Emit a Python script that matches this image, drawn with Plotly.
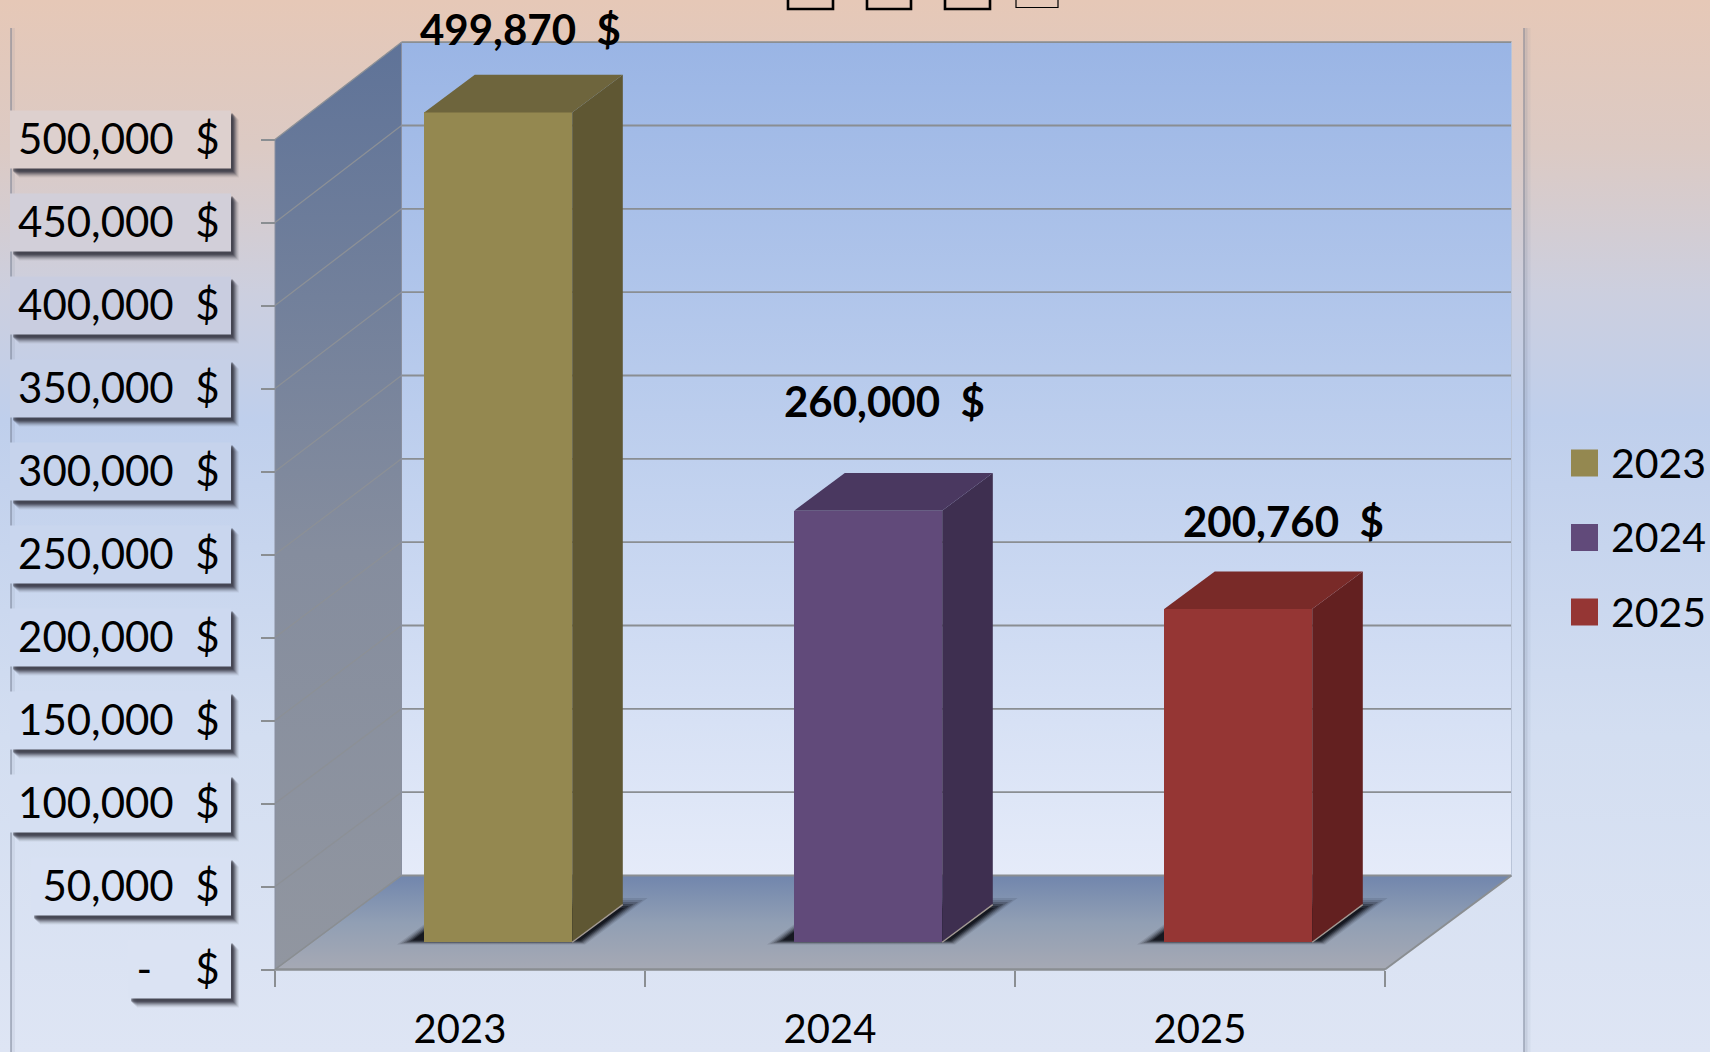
import plotly.graph_objects as go

W, H = 1710, 1052
years = ["2023", "2024", "2025"]
values = [499870, 260000, 200760]
value_labels = ["499,870\u00a0\u00a0$", "260,000\u00a0\u00a0$", "200,760\u00a0\u00a0$"]
tick_values = [0, 50000, 100000, 150000, 200000, 250000, 300000, 350000, 400000, 450000, 500000]
tick_labels = ["-\u00a0\u00a0\u00a0\u00a0$", "50,000\u00a0\u00a0$", "100,000\u00a0\u00a0$", "150,000\u00a0\u00a0$",
               "200,000\u00a0\u00a0$", "250,000\u00a0\u00a0$", "300,000\u00a0\u00a0$", "350,000\u00a0\u00a0$",
               "400,000\u00a0\u00a0$", "450,000\u00a0\u00a0$", "500,000\u00a0\u00a0$"]
plate_colors = ["#DBE3F3", "#D8E1F3", "#D5DFF2", "#D1DCF1", "#CDD9F0", "#C9D6EE", "#C6D3EC", "#C6D0E7",
                "#C9CDE0", "#D2CFD9", "#DDD0CE"]
front_colors = ["#948850", "#614A7A", "#953634"]
side_colors = ["#5F5733", "#3E2F50", "#632020"]
top_colors = ["#6E653D", "#4A3860", "#792A28"]
label_shift = [(24, -46), (18, -72), (47, -50)]

FONT = "Lato"
GRID = "#8A8E92"

# pixel calibration of the axes
X0, PX_PER_CAT = 275.0, 370.0
Y0, PX_PER_VAL = 969.5, 830.0 / 500000
xr = [(0 - X0) / PX_PER_CAT, (W - X0) / PX_PER_CAT]
yr = [(Y0 - H) / PX_PER_VAL, Y0 / PX_PER_VAL]
DX = 126.5 / PX_PER_CAT      # full floor depth, in category units
DY = 94.0 / PX_PER_VAL       # full floor depth, in value units
WALL_STRETCH = 0.004         # slight perspective growth of the back wall


def px_x(p):
    return (p - X0) / PX_PER_CAT


def px_y(p):
    return (Y0 - p) / PX_PER_VAL


def proj(c, v, d):
    return c + DX * d, v + DY * d


def wall(c, v, d):
    return c + DX * d, v * (1 + WALL_STRETCH * d) + DY * d


def poly(pts, **kw):
    xs = [p[0] for p in pts] + [pts[0][0]]
    ys = [p[1] for p in pts] + [pts[0][1]]
    return go.Scatter(x=xs, y=ys, mode="lines", fill="toself", line=kw.pop("line", dict(width=0)),
                      hoverinfo="skip", showlegend=False, **kw)


def line(pts, color=GRID, width=1.5, **kw):
    return go.Scatter(x=[p[0] for p in pts], y=[p[1] for p in pts], mode="lines",
                      line=dict(color=color, width=width), hoverinfo="skip", showlegend=False, **kw)


def grad(stops):
    return dict(type="vertical", colorscale=stops)


fig = go.Figure()

# page background
fig.add_trace(poly([(xr[0], yr[0]), (xr[1], yr[0]), (xr[1], yr[1]), (xr[0], yr[1])],
                   fillgradient=grad([[0, "#DEE5F4"], [0.3, "#D3DEF1"], [0.6, "#BFCFEC"],
                                      [0.72, "#CCCFDF"], [0.86, "#DCCAC4"], [1, "#E6C8B7"]])))

# chart-area frame (left and right soft edges)
for px_pos, col, w in [(1528, "rgba(120,130,150,0.08)", 5), (1526, "rgba(120,130,150,0.16)", 3),
                       (1524, "rgba(110,120,140,0.45)", 2),
                       (13, "rgba(120,130,150,0.10)", 4), (11, "rgba(110,120,140,0.45)", 2)]:
    fig.add_trace(line([(px_x(px_pos), px_y(H)), (px_x(px_pos), px_y(28))], color=col, width=w))

# tick label plates
BOX_H = 29 / 830 * 500000
for v, lab, shade in zip(tick_values, tick_labels, plate_colors):
    left = 128 if v == 0 else (31 if v == 50000 else 10)
    for off, alpha in [(9, 0.07), (8, 0.10), (7, 0.15), (6, 0.22), (5, 0.30), (4, 0.40), (3, 0.45)]:
        l = px_x(left + off)
        r = px_x(231 + off - 1)
        t = v + BOX_H - off / PX_PER_VAL
        b = v - BOX_H - off / PX_PER_VAL
        fig.add_trace(poly([(l, t), (r, t), (r, b), (l, b)], fillcolor=f"rgba(50,50,62,{alpha})"))
    l, r = px_x(left), px_x(231)
    t, b = v + BOX_H, v - BOX_H
    fig.add_trace(poly([(l, t), (r, t), (r, b), (l, b)], fillcolor=shade))

c_max = len(years)
v_max = tick_values[-1]

# back wall
fig.add_trace(poly([wall(0, 0, 1), wall(c_max, 0, 1), wall(c_max, v_max, 1), wall(0, v_max, 1)],
                   fillgradient=grad([[0, "#E5EBF9"], [0.5, "#BFD0EE"], [1, "#9AB5E5"]])))
# side wall
fig.add_trace(poly([wall(0, 0, 0), wall(0, 0, 1), wall(0, v_max, 1), wall(0, v_max, 0)],
                   fillgradient=grad([[0, "#9196A0"], [0.45, "#858D9E"], [1, "#5F7398"]])))
# floor
fig.add_trace(poly([wall(0, 0, 0), wall(c_max, 0, 0), wall(c_max, 0, 1), wall(0, 0, 1)],
                   fillgradient=grad([[0, "#A6A9B4"], [0.5, "#919FB4"], [1, "#7186AD"]])))

# gridlines
for v in tick_values:
    fig.add_trace(line([wall(0, v, 0), wall(0, v, 1)], color="#8C9096", width=1.3))
    fig.add_trace(line([wall(0, v, 1), wall(c_max, v, 1)], width=1.8))
fig.add_trace(line([wall(0, 0, 0), wall(0, v_max, 0)], color="#8A90A0", width=1))
fig.add_trace(line([wall(c_max, 0, 1), wall(c_max, v_max, 1)], color="#B9C4D8", width=1))
fig.add_trace(line([wall(0, 0, 1), wall(0, v_max, 1)], color="#8A90A0", width=1))
fig.add_trace(line([wall(0, 0, 0), wall(c_max, 0, 0)], width=2.6))
fig.add_trace(line([wall(c_max, 0, 0), wall(c_max, 0, 1)], width=2))
fig.add_trace(line([wall(0, 0, 0), wall(0, 0, 1)], width=1.2))

# bar geometry
D0, D1 = 0.29, 0.69
BW = 0.40
BAR_SHIFT = 1.5 / PX_PER_CAT
centers = [i + 0.5 for i in range(len(years))]
bar_mid = [c + BAR_SHIFT for c in centers]

# floor shadows, soft edged
for c in bar_mid:
    xl, xr_ = c - BW / 2, c + BW / 2
    for inset, alpha in [(0, 0.10), (2, 0.14), (4, 0.20), (6, 0.30), (8, 0.42), (10, 0.6)]:
        e = inset / PX_PER_CAT
        dd = inset / 94.0
        d_a, d_b = 0.265 + dd * 0.4, 0.76 - dd
        fig.add_trace(poly([proj(xl - 24 / PX_PER_CAT + e, 0, d_a), proj(xr_ + 16 / PX_PER_CAT - e, 0, d_a),
                            proj(xr_ + 16 / PX_PER_CAT - e, 0, d_b), proj(xl - 24 / PX_PER_CAT + e, 0, d_b)],
                           fillcolor=f"rgba(8,10,16,{alpha})"))

# bars: front faces through the bar trace, on an overlaid y axis so they sit above the walls
for i, (yr_name, val) in enumerate(zip(years, values)):
    c = bar_mid[i]
    fx, fb = proj(c, 0, D0)
    fig.add_trace(go.Bar(x=[fx], y=[val], base=[fb], width=BW, name=yr_name, yaxis="y2",
                         marker=dict(color=front_colors[i], line=dict(width=0)),
                         showlegend=False, hovertemplate=f"{yr_name}: {val:,}<extra></extra>"))
    xl, xr_ = c - BW / 2, c + BW / 2
    fig.add_trace(poly([proj(xr_, 0, D0), proj(xr_, 0, D1), proj(xr_, val, D1), proj(xr_, val, D0)],
                       fillcolor=side_colors[i], yaxis="y2"))
    fig.add_trace(poly([proj(xl, val, D0), proj(xr_, val, D0), proj(xr_, val, D1), proj(xl, val, D1)],
                       fillcolor=top_colors[i], yaxis="y2"))
    fig.add_trace(line([proj(xr_, 0, D0), proj(xr_, 0, D1)], color="#A39A94", width=1.4, yaxis="y2"))

annotations = []
for i, val in enumerate(values):
    fx, fy = proj(centers[i], val, D0)
    sx, sy = label_shift[i]
    annotations.append(dict(x=fx, y=fy + (DY * (D1 - D0)), text=f"<b>{value_labels[i]}</b>", showarrow=False,
                            xshift=sx, yshift=-sy, xanchor="center", yanchor="middle",
                            font=dict(family=FONT, size=42, color="#000")))

# legend
SW = 27
for i, y_name in enumerate(years):
    yc = 463 + i * 74.5
    x1, x2 = px_x(1571), px_x(1571 + SW)
    y1, y2 = px_y(yc - SW / 2), px_y(yc + SW / 2)
    fig.add_trace(poly([(x1, y1), (x2, y1), (x2, y2), (x1, y2)], fillcolor=front_colors[i], yaxis="y2"))
    annotations.append(dict(x=px_x(1609), y=px_y(yc - 1), text=y_name, showarrow=False, xanchor="left",
                            yanchor="middle", font=dict(family=FONT, size=41, color="#000")))

# cropped selection handles at the upper edge
handles = [(788, 833, 9, 2.6), (867, 911, 9, 2.6), (945, 990, 9, 2.6), (1016, 1058, 7.5, 1.2)]
for l, r, b, w in handles:
    fig.add_trace(line([(px_x(l), px_y(-3)), (px_x(l), px_y(b)), (px_x(r), px_y(b)), (px_x(r), px_y(-3))],
                       color="#000", width=w, yaxis="y2"))

fig.update_layout(
    width=W, height=H, margin=dict(l=0, r=0, t=0, b=0), showlegend=False,
    paper_bgcolor="#DCE5F4", plot_bgcolor="rgba(0,0,0,0)", bargap=0, barmode="overlay",
    annotations=annotations,
    xaxis=dict(range=xr, domain=[0, 1], anchor="free", position=(H - Y0) / H, showgrid=False, zeroline=False,
               automargin=False,
               showline=False, tickmode="array", tickvals=centers, ticktext=years, ticks="outside", ticklen=1,
               tickcolor="rgba(0,0,0,0)", ticklabelstandoff=23, tickfont=dict(family=FONT, size=40, color="#000"),
               minor=dict(tickmode="array", tickvals=list(range(c_max + 1)), ticks="outside", ticklen=16,
                          tickcolor=GRID, tickwidth=1.5, showgrid=False)),
    yaxis=dict(range=yr, domain=[0, 1], anchor="free", position=X0 / W, showgrid=False, zeroline=False,
               automargin=False,
               showline=False, tickmode="array", tickvals=tick_values, ticktext=tick_labels, ticks="outside",
               ticklen=14, tickcolor=GRID, tickwidth=1.5, ticklabelstandoff=33,
               tickfont=dict(family=FONT, size=42, color="#000")),
    yaxis2=dict(range=yr, domain=[0, 1], overlaying="y", visible=False, anchor="x", automargin=False),
)
fig.write_html("out.html", config=dict(displayModeBar=False),
               post_script="document.body.style.margin='0';document.body.style.overflow='hidden';")
